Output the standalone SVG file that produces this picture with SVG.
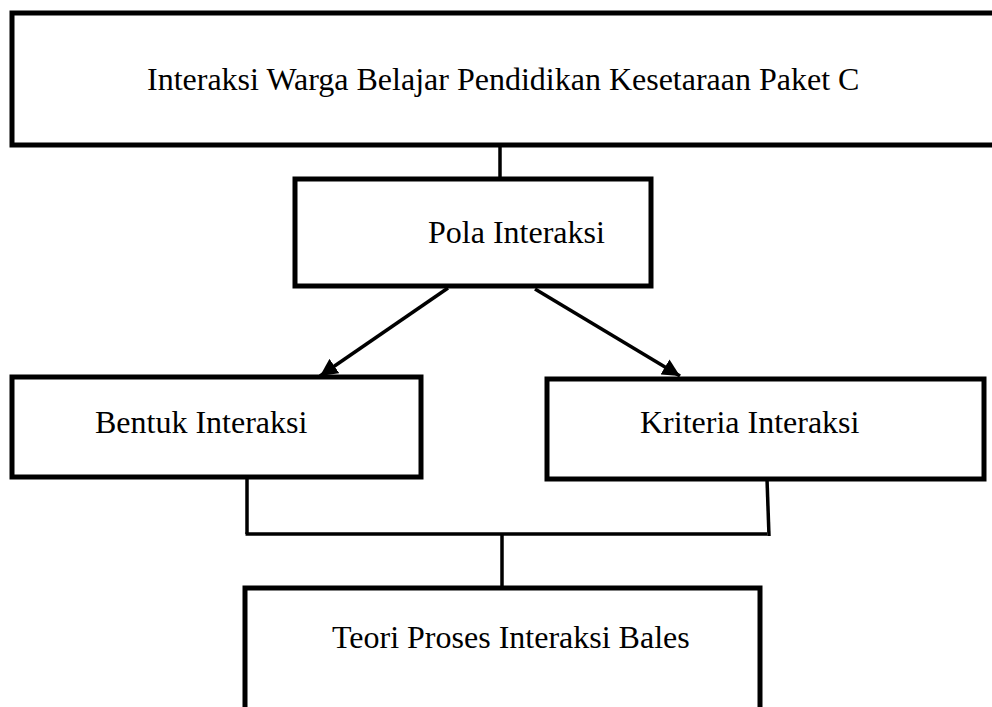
<svg xmlns="http://www.w3.org/2000/svg" width="992" height="707" viewBox="0 0 992 707">
<style>
.box{fill:#fff;stroke:#000;stroke-width:5}
.lbl{font-family:"Liberation Serif","Times New Roman",serif;font-size:32px;fill:#000}
.con{stroke:#000;stroke-width:3.5;fill:none}
</style>
<defs>
<marker id="ah" viewBox="0 0 10 10" refX="10" refY="5" markerWidth="5" markerHeight="5" orient="auto" markerUnits="strokeWidth">
<path d="M0,0 L10,5 L0,10 z" fill="#000"/>
</marker>
</defs>
<rect width="992" height="707" fill="#fff"/>
<g id="connectors">
<line class="con" x1="500" y1="145" x2="500" y2="185"/>
<line class="con" x1="448" y1="288" x2="320" y2="376" marker-end="url(#ah)"/>
<line class="con" x1="535" y1="289" x2="680" y2="376" marker-end="url(#ah)"/>
<line class="con" x1="247" y1="477" x2="247" y2="534"/>
<line class="con" x1="767" y1="479" x2="769" y2="536"/>
<line class="con" x1="245.5" y1="534" x2="767" y2="534"/>
<line class="con" x1="502" y1="534" x2="502" y2="588"/>
</g>
<g id="n-top">
<rect class="box" x="12" y="13" width="990" height="132"/>
<text class="lbl" x="147" y="90">Interaksi Warga Belajar Pendidikan Kesetaraan Paket C</text>
</g>
<g id="n-pola">
<rect class="box" x="295" y="179" width="356" height="107"/>
<text class="lbl" x="428" y="243">Pola Interaksi</text>
</g>
<g id="n-bentuk">
<rect class="box" x="12" y="377" width="409" height="100"/>
<text class="lbl" x="95" y="433">Bentuk Interaksi</text>
</g>
<g id="n-kriteria">
<rect class="box" x="547" y="379" width="437" height="100"/>
<text class="lbl" x="640" y="433">Kriteria Interaksi</text>
</g>
<g id="n-teori">
<rect class="box" x="245" y="588" width="515" height="140"/>
<text class="lbl" x="332" y="648">Teori Proses Interaksi Bales</text>
</g>
</svg>
